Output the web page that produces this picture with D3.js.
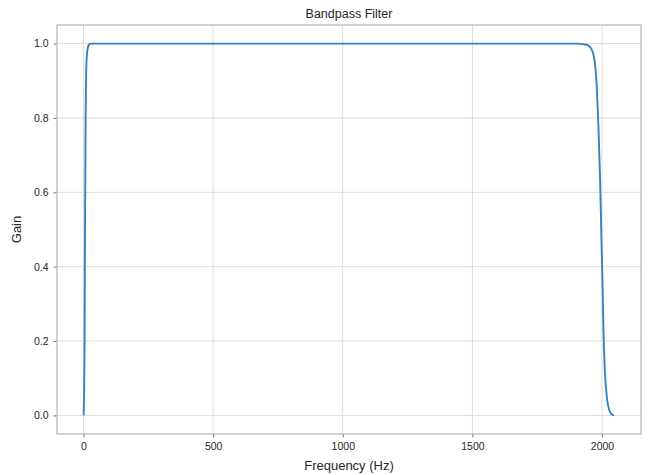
<!DOCTYPE html>
<html>
<head>
    <title>Bandpass Filter</title>
    <script src="https://cdnjs.cloudflare.com/ajax/libs/d3/7.8.5/d3.min.js"></script>
    <style>
        body {
            margin: 0;
            background-color: #fff;
            overflow: hidden;
        }
        svg {
            font-family: "Liberation Sans", Arial, sans-serif;
        }
        .tick text {
            fill: #262626;
            font-size: 10.5px;
        }
        .grid line {
            stroke: #dcdcdc;
            stroke-width: 1;
        }
    </style>
</head>
<body>
<script>
// frequency response (Hz, gain)
const freqs = [0, 2, 4, 5, 6.5, 8, 10, 13, 17, 22, 30, 1900, 1940, 1955, 1965, 1972, 1980, 1986, 1992, 1997, 2002, 2006, 2011, 2017, 2024, 2032, 2040, 2046];
const gains = [0, 0.05, 0.2, 0.4, 0.6, 0.8, 0.92, 0.97, 0.99, 0.998, 1, 1, 0.997, 0.99, 0.975, 0.95, 0.88, 0.78, 0.65, 0.5, 0.35, 0.22, 0.12, 0.06, 0.025, 0.008, 0.002, 0];
const xTicks = [0, 500, 1000, 1500, 2000];
const yTicks = [0.0, 0.2, 0.4, 0.6, 0.8, 1.0];

const width = 657;
const height = 475;
const margin = { top: 25, right: 16, bottom: 41, left: 57 };
const plotW = width - margin.left - margin.right;
const plotH = height - margin.top - margin.bottom;

const data = freqs.map((f, i) => ({ f: f, g: gains[i] }));

const svg = d3.select("body")
    .append("svg")
    .attr("width", width)
    .attr("height", height);

const g = svg.append("g")
    .attr("transform", `translate(${margin.left},${margin.top})`);

// matplotlib-style 5% margins around the data
const xMax = 2048;
const x = d3.scaleLinear()
    .domain([-0.05 * xMax, xMax * 1.05])
    .range([0, plotW]);
const y = d3.scaleLinear()
    .domain([-0.05, 1.05])
    .range([plotH, 0]);

// grid
g.append("g").attr("class", "grid")
    .selectAll("line").data(xTicks).join("line")
    .attr("x1", d => x(d)).attr("x2", d => x(d))
    .attr("y1", 0).attr("y2", plotH);
g.append("g").attr("class", "grid")
    .selectAll("line").data(yTicks).join("line")
    .attr("x1", 0).attr("x2", plotW)
    .attr("y1", d => y(d)).attr("y2", d => y(d));

// axes
const xAxis = g.append("g")
    .attr("transform", `translate(0,${plotH})`)
    .call(d3.axisBottom(x).tickValues(xTicks).tickSize(3.5).tickPadding(5).tickFormat(d3.format("d")));
const yAxis = g.append("g")
    .call(d3.axisLeft(y).tickValues(yTicks).tickSize(3.5).tickPadding(5).tickFormat(d3.format(".1f")));
[xAxis, yAxis].forEach(a => {
    a.select(".domain").remove();
    a.selectAll(".tick line").attr("stroke", "#555").attr("stroke-width", 0.8);
});

// frame
g.append("rect")
    .attr("width", plotW)
    .attr("height", plotH)
    .attr("fill", "none")
    .attr("stroke", "#b4b4b4")
    .attr("stroke-width", 1.2);

// curve
const line = d3.line()
    .x(d => x(d.f))
    .y(d => y(d.g))
    .curve(d3.curveMonotoneX);

g.append("path")
    .datum(data)
    .attr("fill", "none")
    .attr("stroke", "#3283c2")
    .attr("stroke-width", 1.9)
    .attr("stroke-linejoin", "round")
    .attr("d", line);

// labels
svg.append("text")
    .attr("x", margin.left + plotW / 2)
    .attr("y", 18)
    .attr("text-anchor", "middle")
    .attr("font-size", "12.5px")
    .attr("fill", "#262626")
    .text("Bandpass Filter");

svg.append("text")
    .attr("x", margin.left + plotW / 2)
    .attr("y", 470)
    .attr("text-anchor", "middle")
    .attr("font-size", "13px")
    .attr("fill", "#262626")
    .text("Frequency (Hz)");

svg.append("text")
    .attr("transform", `translate(21,${margin.top + plotH / 2}) rotate(-90)`)
    .attr("text-anchor", "middle")
    .attr("font-size", "13px")
    .attr("fill", "#262626")
    .text("Gain");
</script>
</body>
</html>
